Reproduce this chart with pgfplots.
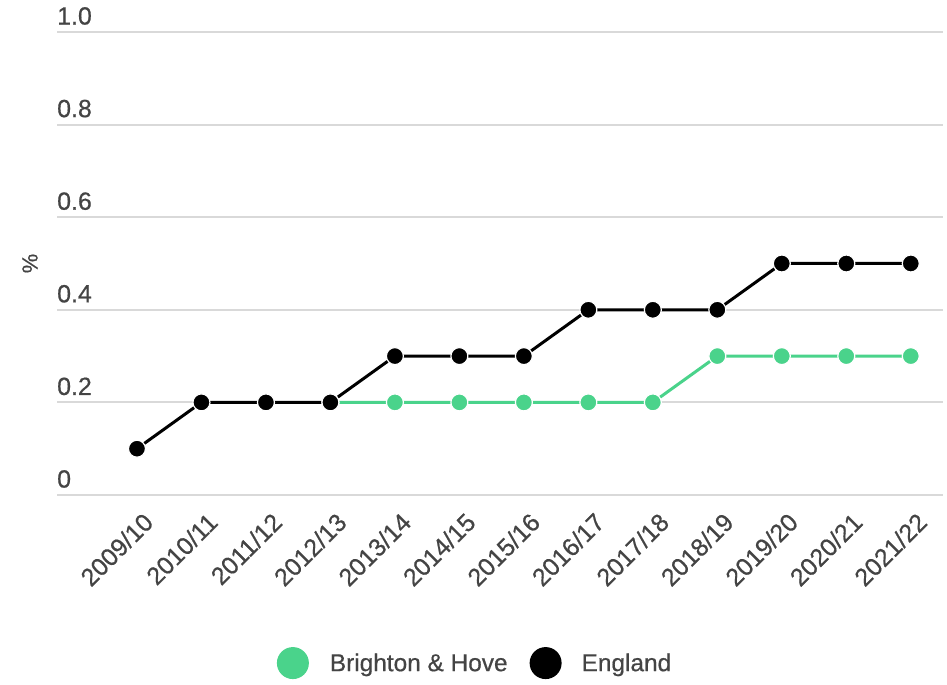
\documentclass[border=0pt]{standalone}
\usepackage{fontspec}
\setmainfont{Liberation Sans}[FakeBold=0.6]
\usepackage{pgfplots}
\pgfplotsset{compat=1.18}
\definecolor{bhgreen}{HTML}{4AD38B}
\definecolor{txtgray}{HTML}{444444}
\definecolor{gridgray}{HTML}{D9D9D9}

\begin{document}
\begin{tikzpicture}[x=1bp,y=1bp]
\path[use as bounding box] (0,0) rectangle (947,685);
\begin{axis}[
    at={(57bp,190bp)}, anchor=south west,
    scale only axis,
    width=886bp, height=463bp,
    xmin=-1.24, xmax=12.5,
    ymin=0, ymax=1,
    axis line style={draw=none},
    major tick length=0pt,
    ytick={0,0.2,0.4,0.6,0.8,1.0},
    yticklabels={0,0.2,0.4,0.6,0.8,1.0},
    xtick={0,...,12},
    xticklabels={2009/10,2010/11,2011/12,2012/13,2013/14,2014/15,2015/16,2016/17,2017/18,2018/19,2019/20,2020/21,2021/22},
    /pgf/number format/assume math mode=true,
    ymajorgrids,
    major grid style={draw=gridgray, line width=2bp},
    ticklabel style={font=\fontsize{25}{28}\selectfont, text=txtgray},
    yticklabel style={anchor=south west, inner sep=0pt, xshift=0bp, yshift=7bp},
    xticklabel style={xshift=5bp, yshift=-16bp, rotate=45, anchor=north east, inner sep=0pt},
    ylabel={\%},
    ylabel style={at={(axis description cs:0,0.5)}, anchor=center, yshift=27bp, font=\fontsize{22}{24}\selectfont, text=txtgray},
    legend style={at={(axis description cs:0.4707,-0.363)}, anchor=center, draw=none, fill=none,
        legend columns=2, font=\fontsize{24.5}{28}\selectfont, text=txtgray,
        /tikz/every even column/.append style={column sep=22bp},
        nodes={inner sep=0pt}},
    clip=false,
]
\addplot[bhgreen, line width=3bp, mark=*, mark size=8.5bp,
    mark options={fill=bhgreen, draw=white, line width=1.2bp},
    legend image code/.code={\fill[bhgreen, draw=none] (0bp,0bp) circle (16bp); \path[draw=none] (-16bp,-16bp) rectangle (37bp,16bp);}]
    coordinates {(3,0.2) (4,0.2) (5,0.2) (6,0.2) (7,0.2) (8,0.2) (9,0.3) (10,0.3) (11,0.3) (12,0.3)};
\addlegendentry{Brighton \& Hove}
\addplot[black, line width=3bp, mark=*, mark size=8.5bp,
    mark options={fill=black, draw=white, line width=1.2bp},
    legend image code/.code={\fill[black, draw=none] (0bp,0bp) circle (16bp); \path[draw=none] (-16bp,-16bp) rectangle (36bp,16bp);}]
    coordinates {(0,0.1) (1,0.2) (2,0.2) (3,0.2) (4,0.3) (5,0.3) (6,0.3) (7,0.4) (8,0.4) (9,0.4) (10,0.5) (11,0.5) (12,0.5)};
\addlegendentry{England}
\end{axis}
\end{tikzpicture}
\end{document}
